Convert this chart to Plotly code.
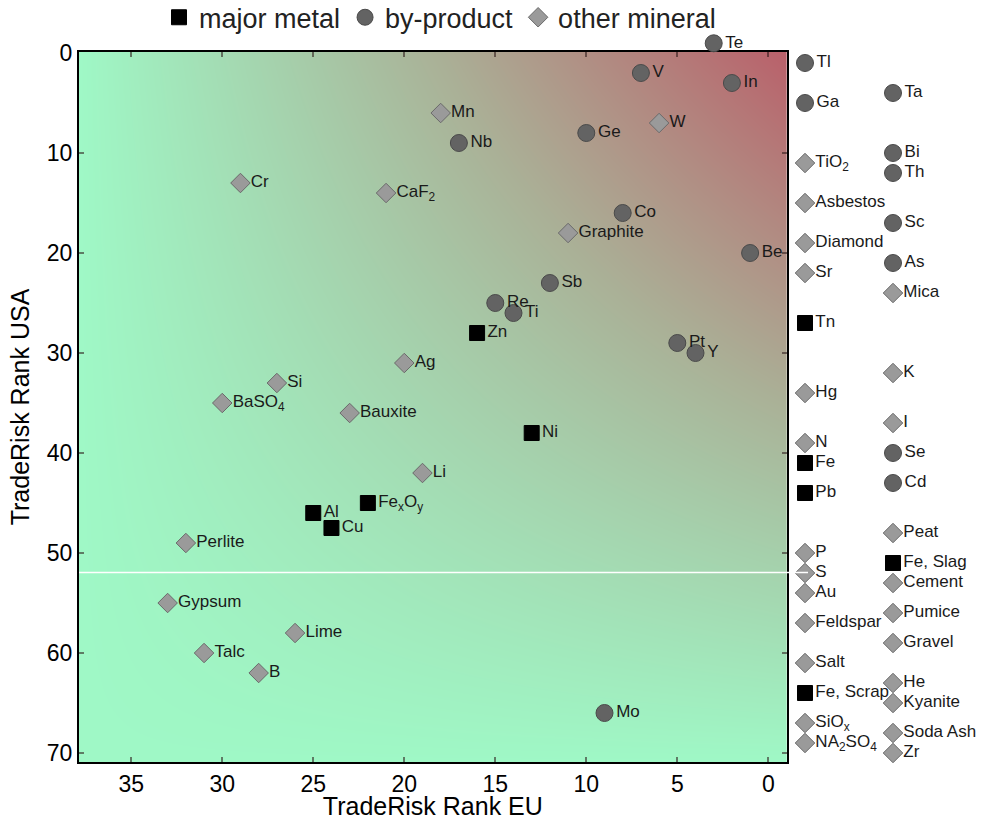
import numpy as np
import plotly.graph_objects as go

# ---------------- data ----------------
metal_names = ["Zn", "Ni", "Fe<sub>x</sub>O<sub>y</sub>", "Al", "Cu"]
metal_eu = [16, 13, 22, 25, 24]
metal_us = [28, 38, 45, 46, 47.5]

byprod_names = ["Te", "V", "In", "Ge", "Nb", "Co", "Be", "Sb", "Re", "Ti", "Pt", "Y", "Mo"]
byprod_eu = [3, 7, 2, 10, 17, 8, 1, 12, 15, 14, 5, 4, 9]
byprod_us = [-1, 2, 3, 8, 9, 16, 20, 23, 25, 26, 29, 30, 66]

other_names = ["Mn", "W", "Cr", "CaF<sub>2</sub>", "Graphite", "Ag", "Si", "BaSO<sub>4</sub>",
               "Bauxite", "Li", "Perlite", "Gypsum", "Lime", "Talc", "B"]
other_eu = [18, 6, 29, 21, 11, 20, 27, 30, 23, 19, 32, 33, 26, 31, 28]
other_us = [6, 7, 13, 14, 18, 31, 33, 35, 36, 42, 49, 55, 58, 60, 62]

# minerals without an EU rank (listed beside the chart, two columns)
noeu_names = ["Tl", "Ga", "TiO<sub>2</sub>", "Asbestos", "Diamond", "Sr", "Tn", "Hg", "N", "Fe",
              "Pb", "P", "S", "Au", "Feldspar", "Salt", "Fe, Scrap", "SiO<sub>x</sub>",
              "NA<sub>2</sub>SO<sub>4</sub>",
              "Ta", "Bi", "Th", "Sc", "As", "Mica", "K", "I", "Se", "Cd", "Peat", "Fe, Slag",
              "Cement", "Pumice", "Gravel", "He", "Kyanite", "Soda Ash", "Zr"]
noeu_us = [1, 5, 11, 15, 19, 22, 27, 34, 39, 41, 44, 50, 52, 54, 57, 61, 64, 67, 69,
           4, 10, 12, 17, 21, 24, 32, 37, 40, 43, 48, 51, 53, 56, 59, 63, 65, 68, 70]
noeu_kind = ["b", "b", "o", "o", "o", "o", "m", "o", "o", "m", "m", "o", "o", "o", "o", "o", "m", "o", "o",
             "b", "b", "b", "b", "b", "o", "o", "o", "b", "b", "o", "m", "o", "o", "o", "o", "o", "o", "o"]
noeu_group = [0] * 19 + [1] * 19

kind_label = {"m": "major metal", "b": "by-product", "o": "other mineral"}

# ---------------- styles ----------------
FONT = "Liberation Sans, Arial, sans-serif"
styles = {
    "m": dict(symbol="square", size=15, color="#000000", line=dict(color="#000000", width=1)),
    "b": dict(symbol="circle", size=17, color="#636363", line=dict(color="#4a4a4a", width=1)),
    "o": dict(symbol="diamond", size=15, color="#9a9a9a", line=dict(color="#6a6a6a", width=1)),
}
label_font = dict(family=FONT, size=17, color="#1a1a1a")

X_LEFT, X_RIGHT = 37.87, -1.01
Y_BOTTOM, Y_TOP = 70.9, -0.1

W, H = 983, 820
ML, MR, MT, MB = 79, 5, 20, 58
pw = W - ML - MR
ph = H - MT - MB
PLOT_TOP_PX, PLOT_BOT_PX = 52.3, 762.3
xdom_end = (786.7 - ML) / pw
ydom_end = (PLOT_BOT_PX - PLOT_TOP_PX) / ph
px_per_unit = (PLOT_BOT_PX - PLOT_TOP_PX) / (Y_BOTTOM - Y_TOP)
Y3_TOP = Y_TOP - (PLOT_TOP_PX - MT) / px_per_unit

fig = go.Figure()

# gradient background (green -> red towards top-right)
gx = np.linspace(X_RIGHT, X_LEFT, 60)
gy = np.linspace(Y_TOP, Y_BOTTOM, 60)
U = (X_LEFT - gx) / (X_LEFT - X_RIGHT)
V = (Y_BOTTOM - gy) / (Y_BOTTOM - Y_TOP)
Z = np.outer(V, U)
fig.add_trace(go.Heatmap(x=gx, y=gy, z=Z, zsmooth="best", showscale=False, hoverinfo="skip",
                         zmin=0, zmax=1,
                         colorscale=[[0, "#9ff8c6"], [0.5, "#aab197"], [1, "#b9606a"]]))

main = {"m": (metal_names, metal_eu, metal_us),
        "b": (byprod_names, byprod_eu, byprod_us),
        "o": (other_names, other_eu, other_us)}

for k in ["m", "b", "o"]:
    names, eu, us = main[k]
    inside = [i for i in range(len(us)) if us[i] >= Y_TOP]
    above = [i for i in range(len(us)) if us[i] < Y_TOP]
    fig.add_trace(go.Scatter(
        x=[eu[i] for i in inside], y=[us[i] for i in inside], text=[names[i] for i in inside],
        mode="markers+text", textposition="middle right",
        textfont=label_font, marker=styles[k], name=kind_label[k], legendgroup=k,
        showlegend=True, cliponaxis=False, xaxis="x", yaxis="y"))
    if above:
        # points ranked above the top of the axis, drawn on an extended hidden axis
        fig.add_trace(go.Scatter(
            x=[eu[i] for i in above], y=[us[i] for i in above], text=[names[i] for i in above],
            mode="markers+text", textposition="middle right",
            textfont=label_font, marker=styles[k], name=kind_label[k], legendgroup=k,
            showlegend=False, cliponaxis=False, xaxis="x", yaxis="y3"))

for k in ["m", "b", "o"]:
    idx = [i for i, kk in enumerate(noeu_kind) if kk == k]
    fig.add_trace(go.Scatter(
        x=[noeu_group[i] for i in idx], y=[noeu_us[i] for i in idx],
        text=[noeu_names[i] for i in idx], mode="markers+text", textposition="middle right",
        textfont=label_font, marker=styles[k], name=kind_label[k], legendgroup=k,
        showlegend=False, cliponaxis=False, xaxis="x2", yaxis="y"))

# artifact white line across plot
fig.add_shape(type="line", xref="paper", yref="y", x0=0, x1=(808 - ML) / pw, y0=51.95, y1=51.95,
              line=dict(color="white", width=1.5), layer="above")

axis_common = dict(showgrid=False, zeroline=False, showline=True, linecolor="black", linewidth=2,
                   mirror="ticks", ticks="inside", ticklen=5, tickwidth=2,
                   tickcolor="rgba(40,20,20,0.55)",
                   tickfont=dict(family=FONT, size=23, color="black"))

fig.update_layout(
    width=W, height=H, margin=dict(l=ML, r=MR, t=MT, b=MB, autoexpand=False),
    paper_bgcolor="white", plot_bgcolor="rgba(0,0,0,0)",
    xaxis=dict(domain=[0, xdom_end], range=[X_LEFT, X_RIGHT], tickvals=[0, 5, 10, 15, 20, 25, 30, 35],
               title=dict(text="TradeRisk Rank EU", font=dict(family=FONT, size=25, color="black"), standoff=5),
               automargin=False, anchor="y", **axis_common),
    yaxis=dict(domain=[0, ydom_end], range=[Y_BOTTOM, Y_TOP], tickvals=[0, 10, 20, 30, 40, 50, 60, 70],
               title=dict(text="TradeRisk Rank USA", font=dict(family=FONT, size=25, color="black"), standoff=10),
               automargin=False, anchor="x", **axis_common),
    xaxis2=dict(domain=[xdom_end, 1], range=[-0.208, 1.966], visible=False, anchor="y",
                showgrid=False, zeroline=False),
    yaxis3=dict(domain=[0, 1], range=[Y_BOTTOM, Y3_TOP], visible=False, anchor="x",
                showgrid=False, zeroline=False),
    legend=dict(orientation="h", x=(440 - ML) / pw, xanchor="center",
                y=(PLOT_BOT_PX - 18) / ph, yanchor="middle",
                font=dict(family=FONT, size=27, color="#222"), bgcolor="rgba(0,0,0,0)",
                itemsizing="trace", traceorder="normal"),
    showlegend=True,
)

fig.write_html("out.html", config={"displayModeBar": False},
               post_script="document.body.style.margin='0';document.body.style.overflow='hidden';")
